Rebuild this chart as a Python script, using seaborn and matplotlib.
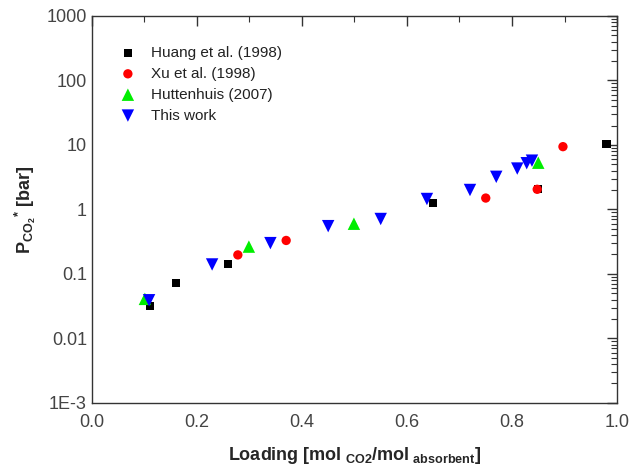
import numpy as np
import pandas as pd
import matplotlib
matplotlib.use("Agg")
import matplotlib.pyplot as plt
import seaborn as sns
from matplotlib.ticker import LogLocator, FixedLocator, FixedFormatter, MultipleLocator, NullFormatter

# data
huang_x = [0.11, 0.16, 0.26, 0.65, 0.85, 0.98]
huang_y = [0.032, 0.072, 0.143, 1.26, 2.1, 10.2]

xu_x = [0.278, 0.37, 0.75, 0.848, 0.897]
xu_y = [0.197, 0.33, 1.5, 2.05, 9.4]

hutt_x = [0.101, 0.299, 0.499, 0.85]
hutt_y = [0.041, 0.265, 0.6, 5.3]

work_x = [0.109, 0.229, 0.34, 0.45, 0.55, 0.638, 0.72, 0.77, 0.81, 0.828, 0.838]
work_y = [0.039, 0.14, 0.30, 0.55, 0.71, 1.45, 2.0, 3.2, 4.3, 5.2, 5.7]

labels = ["Huang et al. (1998)", "Xu et al. (1998)", "Huttenhuis (2007)", "This work"]
y_ticks = [1e-3, 1e-2, 1e-1, 1, 10, 100, 1000]
y_ticklabels = ["1E-3", "0.01", "0.1", "1", "10", "100", "1000"]

sns.set_style("white")
plt.rcParams["font.family"] = ["Liberation Sans", "DejaVu Sans"]

fig = plt.figure(figsize=(6.29, 4.69), dpi=100)
ax = fig.add_axes([0.146, 0.141, 0.835, 0.825])

series = [
    (huang_x, huang_y, "s", "black", 34),
    (xu_x, xu_y, "o", "red", 45),
    (hutt_x, hutt_y, "^", "#00ee00", 80),
    (work_x, work_y, "v", "blue", 80),
]
for (xs, ys, m, c, s), lab in zip(series, labels):
    df = pd.DataFrame({"x": xs, "y": ys})
    sns.scatterplot(data=df, x="x", y="y", marker=m, color=c, s=s,
                    edgecolor="none", linewidth=0, label=lab, ax=ax, zorder=3)

ax.set_yscale("log")
ax.set_xlim(0, 1.0)
ax.set_ylim(1e-3, 1000)
ax.xaxis.set_major_locator(MultipleLocator(0.2))
ax.xaxis.set_minor_locator(MultipleLocator(0.1))
ax.yaxis.set_major_locator(FixedLocator(y_ticks))
ax.yaxis.set_major_formatter(FixedFormatter(y_ticklabels))
ax.yaxis.set_minor_locator(LogLocator(base=10, subs=np.arange(2, 10)))
ax.yaxis.set_minor_formatter(NullFormatter())

for sp in ax.spines.values():
    sp.set_color("#333333")
    sp.set_linewidth(1.0)

ax.tick_params(which="both", direction="in", top=True, right=True,
               color="#333333", labelsize=13, labelcolor="#444444")
ax.tick_params(which="major", length=7, width=1.0)
ax.tick_params(which="minor", length=4, width=0.8)
ax.tick_params(axis="x", pad=8)

ax.set_xlabel("Loading [mol$_{\\ \\mathregular{CO2}}$/mol$_{\\ \\mathregular{absorbent}}$]",
              fontsize=13, fontweight="bold", labelpad=10)
ax.set_ylabel("P$_{\\mathregular{CO_2}}$$^{\\mathregular{*}}$ [bar]",
              fontsize=13, fontweight="bold", labelpad=6)

leg = ax.legend(loc="upper left", bbox_to_anchor=(0.025, 0.958), frameon=False,
                fontsize=11, handletextpad=0.9, labelspacing=0.45,
                handlelength=1.2)
for t in leg.get_texts():
    t.set_color("#222222")

fig.savefig("out.png", dpi=100)
